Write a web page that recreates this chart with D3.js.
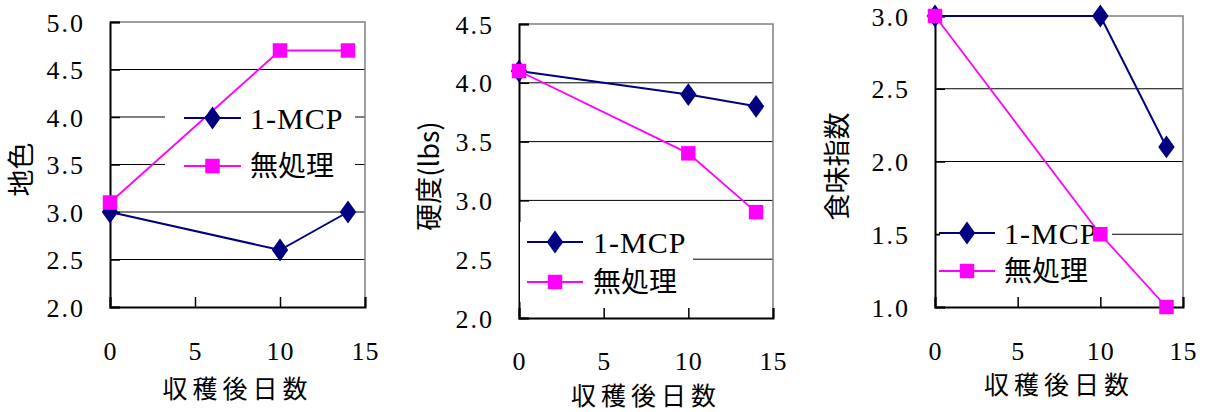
<!DOCTYPE html>
<html><head><meta charset="utf-8">
<script src="https://cdn.jsdelivr.net/npm/d3@7"></script>
<style>
html,body{margin:0;padding:0;background:#fff;}
svg text{font-family:"Liberation Serif","Times New Roman","DejaVu Serif",serif;fill:#000;}
svg text.cjk{font-family:"Noto Sans CJK JP","Liberation Serif",sans-serif;}
</style></head>
<body>
<svg id="chart" width="1207" height="412"></svg>
<script>
// ---- data ----
const days = [0, 10, 14];
const xTicks = [0, 5, 10, 15];
const seriesNames = ["1-MCP", "無処理"];
const colorMCP = [3.0, 2.6, 3.0];
const colorCtrl = [3.1, 4.7, 4.7];
const firmMCP = [4.1, 3.9, 3.8];
const firmCtrl = [4.1, 3.4, 2.9];
const tasteMCP = [3.0, 3.0, 2.1];
const tasteCtrl = [3.0, 1.5, 1.0];
const yTicks1 = [2.0, 2.5, 3.0, 3.5, 4.0, 4.5, 5.0];
const yTicks2 = [2.0, 2.5, 3.0, 3.5, 4.0, 4.5];
const yTicks3 = [1.0, 1.5, 2.0, 2.5, 3.0];
const yTitles = ["地色", "硬度(lbs)", "食味指数"];
const xTitle = "収穫後日数";

// ---- layout ----
const panels = [
  {mcp: colorMCP, ctrl: colorCtrl, yt: yTicks1, title: yTitles[0],
   L:110, R:365, T:22, B:307, ylx:22, xty:351, xtitleY:389,
   lg:{x:165, y:94, w:190, h:96, r1:118, r2:166, l0:184, l1:241, tx:250}},
  {mcp: firmMCP, ctrl: firmCtrl, yt: yTicks2, title: yTitles[1],
   L:519, R:773, T:24, B:318, ylx:430, xty:361, xtitleY:396,
   lg:{x:520, y:222, w:173, h:80, r1:242, r2:282, l0:527, l1:583, tx:593}},
  {mcp: tasteMCP, ctrl: tasteCtrl, yt: yTicks3, title: yTitles[2],
   L:935, R:1183, T:16, B:307, ylx:838, xty:351, xtitleY:385,
   lg:{x:940, y:214, w:172, h:78, r1:233, r2:271, l0:939, l1:995, tx:1004}}
];
const NAVY = "#000080", MAG = "#FF00FF";
const SERIF = '"Liberation Serif", "Times New Roman", serif';
const svg = d3.select("#chart");

panels.forEach(p => {
  const g = svg.append("g");
  const x = d3.scaleLinear().domain([0, 15]).range([p.L, p.R]);
  const y = d3.scaleLinear().domain(d3.extent(p.yt)).range([p.B, p.T]);

  // gridlines
  g.selectAll(".grid").data(p.yt.slice(1, -1)).join("line")
    .attr("x1", p.L).attr("x2", p.R)
    .attr("y1", d => y(d)).attr("y2", d => y(d))
    .attr("stroke", "#000").attr("stroke-width", 1);
  // plot border top/right gray
  g.append("path").attr("d", `M${p.L},${p.T}H${p.R}V${p.B}`)
    .attr("fill", "none").attr("stroke", "#808080").attr("stroke-width", 1.5);

  // axes
  const yAxis = d3.axisLeft(y).tickValues(p.yt).tickSize(-10).tickPadding(25)
    .tickFormat(d3.format(".1f"));
  const ya = g.append("g").attr("transform", `translate(${p.L},0)`).call(yAxis);
  ya.attr("font-family", null);
  ya.select(".domain").attr("stroke", "#000").attr("stroke-width", 2);
  ya.selectAll(".tick line").attr("stroke", "#000").attr("stroke-width", 1.5);
  ya.selectAll(".tick text").style("font-family", SERIF).style("font-size", "26px")
    .attr("letter-spacing", 2).attr("dy", "0.35em");

  const xAxis = d3.axisBottom(x).tickValues(xTicks).tickSize(-10).tickPadding(0)
    .tickFormat(d3.format("d"));
  const xa = g.append("g").attr("transform", `translate(0,${p.B})`).call(xAxis);
  xa.attr("font-family", null);
  xa.select(".domain").attr("stroke", "#000").attr("stroke-width", 2);
  xa.selectAll(".tick line").attr("stroke", "#000").attr("stroke-width", 1.5);
  xa.selectAll(".tick text").style("font-family", SERIF).style("font-size", "26px")
    .attr("letter-spacing", 1).attr("y", p.xty - p.B).attr("dy", "0.35em");

  // axis titles
  g.append("text").attr("class", "cjk")
    .attr("transform", `translate(${p.ylx},${(p.T + p.B) / 2 + 5}) rotate(-90)`)
    .attr("text-anchor", "middle").attr("dy", "0.35em")
    .style("font-size", "27px").text(p.title);
  g.append("text").attr("class", "cjk")
    .attr("x", (p.L + p.R) / 2).attr("y", p.xtitleY).attr("dy", "0.35em")
    .attr("text-anchor", "middle").style("font-size", "25px").attr("letter-spacing", 5)
    .text(xTitle);

  // legend background
  const lg = p.lg;
  g.append("rect").attr("x", lg.x).attr("y", lg.y).attr("width", lg.w).attr("height", lg.h)
    .attr("fill", "#fff");

  const line = d3.line().x((d, i) => x(days[i])).y(d => y(d));
  const series = [
    {vals: p.mcp, color: NAVY, shape: d3.symbolDiamond, size: 150, w: 2, name: seriesNames[0], ry: lg.r1},
    {vals: p.ctrl, color: MAG, shape: d3.symbolSquare, size: 210, w: 1.8, name: seriesNames[1], ry: lg.r2}
  ];
  series.forEach(s => {
    g.append("path").datum(s.vals).attr("d", line)
      .attr("fill", "none").attr("stroke", s.color).attr("stroke-width", s.w);
  });
  series.forEach(s => {
    g.append("line").attr("x1", lg.l0).attr("x2", lg.l1).attr("y1", s.ry).attr("y2", s.ry)
      .attr("stroke", s.color).attr("stroke-width", s.w);
    g.append("path").attr("d", d3.symbol().type(s.shape).size(s.size)())
      .attr("transform", `translate(${(lg.l0 + lg.l1) / 2},${s.ry})${s.shape === d3.symbolDiamond ? " scale(1.25,1)" : ""}`)
      .attr("fill", s.color);
    const t = g.append("text").attr("x", lg.tx).attr("y", s.ry).attr("dy", "0.35em")
      .attr("class", s.name === "1-MCP" ? null : "cjk")
      .style("font-size", s.name === "1-MCP" ? "30px" : "28px")
      .attr("letter-spacing", s.name === "1-MCP" ? 1 : 0)
      .text(s.name);
    if (s.name === "1-MCP") t.style("font-family", SERIF);
  });
  series.forEach(s => {
    g.selectAll(null).data(s.vals).join("path")
      .attr("d", d3.symbol().type(s.shape).size(s.size)())
      .attr("transform", (d, i) => `translate(${x(days[i])},${y(d)})${s.shape === d3.symbolDiamond ? " scale(1.25,1)" : ""}`)
      .attr("fill", s.color);
  });
});
</script>
</body></html>
